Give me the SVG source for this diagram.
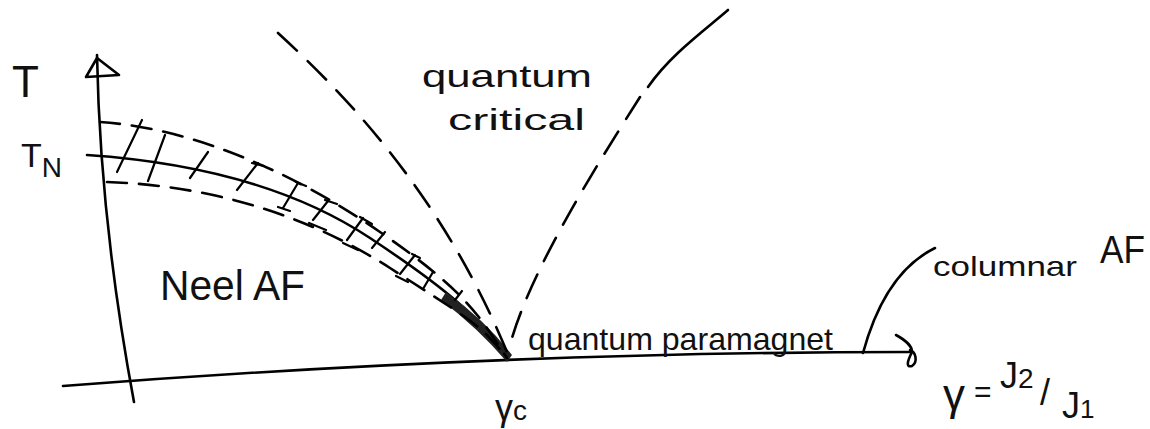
<svg xmlns="http://www.w3.org/2000/svg" width="1150" height="429" viewBox="0 0 1150 429">
<style>
.ink{fill:none;stroke:#000;stroke-width:2.6;stroke-linecap:round;stroke-linejoin:round}
.thin{fill:none;stroke:#000;stroke-width:2.2;stroke-linecap:round}
.dash{fill:none;stroke:#000;stroke-width:2.6;stroke-linecap:round;stroke-dasharray:20 12}
.dashL{fill:none;stroke:#000;stroke-width:2.6;stroke-linecap:round;stroke-dasharray:26 15}
.lbl{font-family:"Liberation Sans",Arial,sans-serif;fill:#111}
</style>
<rect width="1150" height="429" fill="#fff"/>
<g id="axes">
  <path class="ink" d="M97,55 Q100,220 134,402"/>
  <path class="ink" d="M97,58 L86,77 L119,75 Z"/>
  <path class="ink" d="M63,386 Q500,352 910,352"/>
  <path class="ink" d="M896,335 C905,340 912,345 912,352 C908,360 905,368 912,366 C918,362 916,352 910,350"/>
</g>
<g id="connectors">
  <path id="neel-boundary" class="ink" stroke-width="3.2" d="M87,155 C190,162 290,185 370,238 S480,318 507,358"/>
  <path id="wedge" fill="#222" d="M446,292 Q485,320 512,355 L507,362 Q478,328 441,300 Z"/>
  <path id="upper-crossover" class="dash" d="M100,122 C190,128 290,170 380,232 S480,318 507,358"/>
  <path id="lower-crossover" class="dash" d="M107,182 C200,185 300,210 390,268 S480,325 507,358"/>
  <path id="qc-left" class="dashL" d="M278,33 C340,90 440,190 507,352"/>
  <path id="qc-right-solid" class="ink" d="M728,10 C705,30 670,55 648,87"/>
  <path id="qc-right-dashed" class="dashL" d="M640,97 C600,160 530,270 510,345"/>
  <path id="columnar-pointer" class="ink" d="M863,353 C872,320 890,270 935,248"/>
  <g id="hatching">
    <path class="thin" d="M117,172L142,120 M148,181L165,135 M190,178L208,152 M237,190L258,163 M252,163L264,166 M283,208L298,183 M278,207L290,211 M296,182L306,186 M313,220L328,201 M309,223L326,230 M325,200L337,204 M347,240L363,218 M343,243L358,250 M360,217L372,224 M372,248L385,232 M400,274L415,255 M396,276L408,282 M412,254L420,258 M423,289L433,272 M455,300L462,291"/>
  </g>
</g>
<g id="label-T"><text class="lbl" x="12" y="97" font-size="44">T</text></g>
<g id="label-TN"><text class="lbl" x="21" y="167" font-size="34">T<tspan font-size="28" dy="10">N</tspan></text></g>
<g id="label-qc">
  <text class="lbl" x="422" y="87" font-size="32" textLength="170" lengthAdjust="spacingAndGlyphs">quantum</text>
  <text class="lbl" x="448" y="130" font-size="30" textLength="137" lengthAdjust="spacingAndGlyphs">critical</text>
</g>
<g id="label-neel"><text class="lbl" x="160" y="300" font-size="42" textLength="145" lengthAdjust="spacingAndGlyphs">Neel AF</text></g>
<g id="label-qpm"><text class="lbl" x="528" y="350" font-size="32" textLength="305" lengthAdjust="spacingAndGlyphs">quantum paramagnet</text></g>
<g id="label-gc"><text class="lbl" x="495" y="420" font-size="36">γ<tspan font-size="28">c</tspan></text></g>
<g id="label-columnar">
  <text class="lbl" x="933" y="276" font-size="28" textLength="144" lengthAdjust="spacingAndGlyphs">columnar</text>
  <text class="lbl" x="1100" y="263" font-size="38" textLength="45" lengthAdjust="spacingAndGlyphs">AF</text>
</g>
<g id="label-gamma">
  <text class="lbl" x="943" y="410" font-size="44">γ</text>
  <text class="lbl" x="974" y="402" font-size="30">=</text>
  <text class="lbl" x="1000" y="388" font-size="36">J<tspan font-size="28">2</tspan></text>
  <text class="lbl" x="1040" y="405" font-size="36">/</text>
  <text class="lbl" x="1062" y="418" font-size="36">J<tspan font-size="26">1</tspan></text>
</g>
</svg>
